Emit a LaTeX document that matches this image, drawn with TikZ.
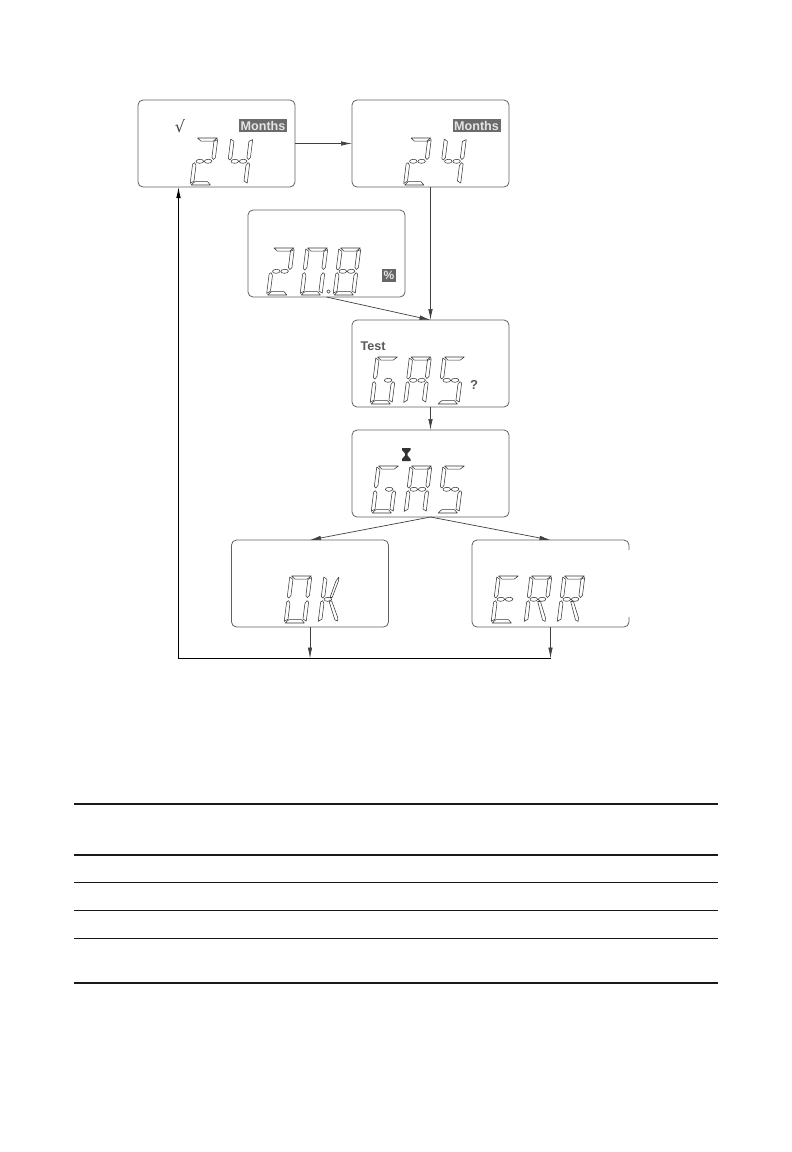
\documentclass[tikz,border=0pt]{standalone}
\usepackage{fontspec}
\setmainfont{Liberation Sans}
\newfontfamily\symfont{DejaVu Sans}
\usetikzlibrary{arrows.meta}
\tikzset{
  lcdbox/.style={draw=black!62,line width=.8pt,rounded corners=5pt,minimum width=157pt,minimum height=87pt,inner sep=0pt,outer sep=0pt},
  conn/.style={draw=black!75,line width=.7pt,-{Latex[length=11pt,width=4.5pt]}},
  plainline/.style={draw=black,line width=.9pt},
  lcdstroke/.style={draw=black!78,line width=.55pt,fill=white,line join=round},
  rulethick/.style={draw=black!90,line width=2pt},
  rulethin/.style={draw=black!90,line width=1pt},
  tag/.style={fill=black!58,text=white!90!black,font=\bfseries\fontsize{12.6}{13}\selectfont,inner sep=0pt,minimum width=48pt,minimum height=13pt},
  lcdtext/.style={text=black!65,font=\bfseries,inner sep=0pt}
}
\def\sega{\draw[lcdstroke] (1.5,47)--(19.5,47)--(16,43.8)--(5,43.8)--cycle;}
\def\segb{\draw[lcdstroke] (20,45.5)--(20,27.5)--(18.4,25.5)--(16.8,27.5)--(16.8,43.6)--cycle;}
\def\segc{\draw[lcdstroke] (20,21)--(20,2)--(16.8,4)--(16.8,19.5)--(18.4,22.3)--cycle;}
\def\segd{\draw[lcdstroke] (1,0)--(18.5,0)--(15.5,3.4)--(4,3.4)--cycle;}
\def\sege{\draw[lcdstroke] (0,1.5)--(3.2,4)--(3.2,19.5)--(1.6,22.3)--(0,21)--cycle;}
\def\segf{\draw[lcdstroke] (0,26.5)--(1.6,25)--(3.2,27.5)--(3.2,43.6)--(0,46)--cycle;}
\def\segg{\draw[lcdstroke] (6.2,23.7) ellipse [x radius=3.8pt,y radius=2pt];}
\def\segh{\draw[lcdstroke] (13.8,23.7) ellipse [x radius=3.8pt,y radius=2pt];}
\def\segi{\draw[lcdstroke] (8,25.5)--(10,25.5)--(13.8,42)--(13.8,46)--(11.5,42)--cycle;}
\def\segj{\draw[lcdstroke] (10,21.5)--(12.5,21.5)--(19,5)--(19,1.5)--(16.5,3)--cycle;}
\def\segk{\draw[lcdstroke] (7.5,22)--(10,22)--(17.5,5)--(17.5,2)--(15,3)--cycle;}
\newcommand\lcddigit[3]{\begin{scope}[shift={(#1,#2)},x=1.1pt,y=1pt,xslant=.125]
  \foreach \s in {#3}{\csname seg\s\endcsname}
\end{scope}}
\begin{document}
\begin{tikzpicture}[x=1pt,y=-1pt]
\path[use as bounding box,fill=white] (0,0) rectangle (792,1152);
% boxes
\node[lcdbox] (b1) at (216.5,143.5) {};
\node[lcdbox] (b2) at (430.5,143.5) {};
\node[lcdbox] (b3) at (326.5,253.5) {};
\node[lcdbox] (b4) at (430.5,363.5) {};
\node[lcdbox] (b5) at (430.5,473.5) {};
\node[lcdbox] (b6) at (310,583.5) {};
\node[lcdbox] (b7) at (550.5,583.5) {};
\fill[white] (628,550) rectangle (630,617);
% coordinates of the return line
\coordinate (j1) at (b6.south |- 0,658.5);
\coordinate (j2) at (b7.south |- 0,658.5);
\coordinate (j3) at (178.5,658.5);
\coordinate (j4) at (178.5,187);
% connectors
\draw[conn] (b1.east) -- (b2.west);
\draw[conn] (b2.south) -- (b4.north);
\draw[conn] (b3.south) -- (b4.north);
\draw[conn] (b4.south) -- (b5.north);
\draw[conn] (b5.south) -- (b6.north);
\draw[conn] (b5.south) -- (b7.north);
\draw[conn] (b6.south) -- (j1);
\draw[conn] (b7.south) -- (j2);
\draw[plainline] (j2) -- (j3);
\draw[plainline,-{Latex[length=11pt,width=4.5pt]}] (j3) -- (j4);
% box 1
\node[tag] (m1) at (263,125.5) {Months};
\node[text=black!75,font=\symfont\fontsize{16}{16}\selectfont,inner sep=0pt] (c1) at (180,126) {√};
\lcddigit{190}{185}{a,b,g,h,e,d}
\lcddigit{225}{185}{f,g,h,b,c}
% box 2
\node[tag] (m2) at (476.5,125.5) {Months};
\lcddigit{403.5}{185}{a,b,g,h,e,d}
\lcddigit{438.5}{185}{f,g,h,b,c}
% box 3
\node[fill=black!60,text=white!90!black,font=\bfseries\fontsize{12}{12}\selectfont,inner sep=0pt,minimum width=14pt,minimum height=13pt] (p3) at (389,275.5) {\%};
\lcddigit{266.5}{295}{a,b,g,h,e,d}
\lcddigit{300}{295}{a,b,c,d,e,f}
\lcddigit{333}{295}{a,b,c,d,e,f,g,h}
\draw[lcdstroke] (328.5,291.5) circle [radius=1.7pt];
% box 4
\node[lcdtext,font=\bfseries\fontsize{12.6}{13}\selectfont] (t4) at (373,346.5) {Test};
\node[lcdtext,font=\bfseries\fontsize{13}{13}\selectfont] (q4) at (474,385) {?};
\lcddigit{370}{404}{a,f,e,d,c,h}
\lcddigit{403.5}{404}{a,b,c,e,f,g,h}
\lcddigit{437}{404}{a,f,g,h,c,d}
% box 5: hourglass symbol
\fill[black!80] (402,448) -- (410.5,448) -- (410.5,450) -- (407.5,453.5) -- (407.5,455.5) -- (410.5,459) -- (410.5,461) -- (402,461) -- (402,459) -- (405,455.5) -- (405,453.5) -- (402,450) -- cycle;
\lcddigit{371}{513}{a,f,e,d,c,h}
\lcddigit{404}{513}{a,b,c,e,f,g,h}
\lcddigit{437}{513}{a,f,g,h,c,d}
% box 6
\lcddigit{284}{623}{a,b,c,d,e,f}
\lcddigit{318}{623}{e,f,g,i,k}
% box 7
\lcddigit{491}{623}{a,f,e,d,g,h}
\lcddigit{524}{623}{a,b,e,f,g,h,j}
\lcddigit{557}{623}{a,b,e,f,g,h,j}
% table rules
\coordinate (rl) at (74,0);
\coordinate (rr) at (718,0);
\draw[rulethick] (rl |- 0,804) -- (rr |- 0,804);
\draw[rulethick] (rl |- 0,855) -- (rr |- 0,855);
\draw[rulethin] (rl |- 0,882.3) -- (rr |- 0,882.3);
\draw[rulethin] (rl |- 0,910.3) -- (rr |- 0,910.3);
\draw[rulethin] (rl |- 0,938.3) -- (rr |- 0,938.3);
\draw[rulethick] (rl |- 0,983) -- (rr |- 0,983);
\end{tikzpicture}
\end{document}
